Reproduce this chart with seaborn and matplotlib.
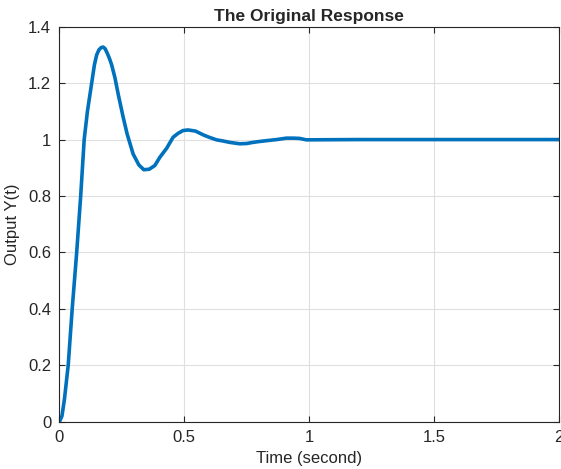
import numpy as np
import pandas as pd
import matplotlib
matplotlib.use("Agg")
import matplotlib.pyplot as plt
import seaborn as sns

# step response
time_s = [0.0, 0.01, 0.02, 0.035, 0.051, 0.069, 0.085, 0.099, 0.112, 0.129, 0.14,
          0.149, 0.158, 0.167, 0.175, 0.183, 0.192, 0.2, 0.209, 0.222, 0.235,
          0.255, 0.271, 0.295, 0.318, 0.338, 0.36, 0.382, 0.402, 0.43, 0.455,
          0.475, 0.495, 0.515, 0.545, 0.575, 0.6, 0.629, 0.655, 0.682, 0.722,
          0.75, 0.775, 0.8, 0.829, 0.87, 0.909, 0.94, 0.962, 0.989, 1.2, 1.5,
          1.8, 2.0]
output_y = [0.0, 0.02, 0.08, 0.2, 0.4, 0.6, 0.8, 1.0, 1.1, 1.2, 1.265,
            1.3, 1.318, 1.326, 1.328, 1.322, 1.305, 1.288, 1.265, 1.22, 1.162,
            1.08, 1.02, 0.949, 0.91, 0.893, 0.895, 0.908, 0.937, 0.97, 1.008,
            1.022, 1.032, 1.034, 1.03, 1.017, 1.008, 0.999, 0.995, 0.99, 0.985,
            0.986, 0.99, 0.993, 0.996, 1.0, 1.005, 1.005, 1.004, 0.999, 1.0,
            1.0, 1.0, 1.0]

x_ticks = [0, 0.5, 1, 1.5, 2]
x_labels = ["0", "0.5", "1", "1.5", "2"]
y_ticks = [0, 0.2, 0.4, 0.6, 0.8, 1, 1.2, 1.4]
y_labels = ["0", "0.2", "0.4", "0.6", "0.8", "1", "1.2", "1.4"]

df = pd.DataFrame({"t": time_s, "y": output_y})

sns.set_style("white")
plt.rcParams['font.family'] = ['Liberation Sans', 'DejaVu Sans']

fig = plt.figure(figsize=(5.61, 4.69), dpi=100)
ax = fig.add_axes([0.106, 0.101, 0.890, 0.842])

sns.lineplot(data=df, x="t", y="y", ax=ax, color="#0072BD", linewidth=2.6)

ax.set_xlim(0, 2)
ax.set_ylim(0, 1.4)
ax.set_xticks(x_ticks)
ax.set_xticklabels(x_labels)
ax.set_yticks(y_ticks)
ax.set_yticklabels(y_labels)
ax.grid(True, color="#dfdfdf", linewidth=0.8)
ax.set_axisbelow(True)
ax.tick_params(direction="in", length=4, width=0.8, colors="#262626",
               labelsize=12, pad=6, top=True, right=True, bottom=True, left=True)
for side in ax.spines.values():
    side.set_color("#262626")
    side.set_linewidth(0.8)

ax.set_xlabel("Time (second)", fontsize=12, color="#262626", labelpad=4)
ax.set_ylabel("Output Y(t)", fontsize=12, color="#262626", labelpad=6)
ax.set_title("The Original Response", fontsize=12.5, fontweight="bold", pad=4)

fig.savefig("out.png", dpi=100)
